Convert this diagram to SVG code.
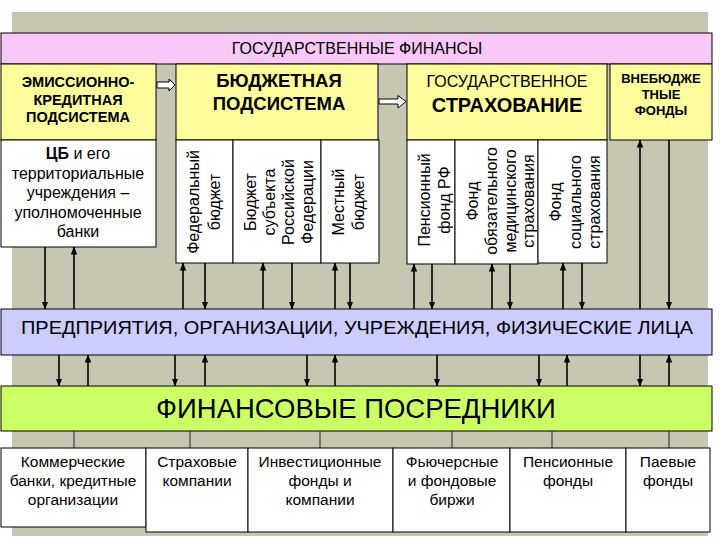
<svg xmlns="http://www.w3.org/2000/svg" width="720" height="540" viewBox="0 0 720 540">
<defs>
<style>
text{font-family:"Liberation Sans",Arial,sans-serif;fill:#000}
.box{stroke:#000;stroke-width:1}
.yel{fill:#fdfd9d}
.wht{fill:#fff}
.c{text-anchor:middle}
.b{font-weight:bold}
.v{font-size:16px;text-anchor:middle}
.bt{font-size:15.5px;text-anchor:middle}
.ar{stroke:#000;stroke-width:1.6;fill:none;marker-end:url(#ah)}
.ln{stroke:#222;stroke-width:1}
.blk{fill:#fff;stroke:#000;stroke-width:1}
</style>
<marker id="ah" markerUnits="userSpaceOnUse" markerWidth="8" markerHeight="8" viewBox="0 0 8 8" refX="7.5" refY="4" orient="auto">
<path d="M0,0.8 L8,4 L0,7.2 Z" fill="#000"/>
</marker>
</defs>
<rect x="12" y="12" width="696" height="524" fill="#c6c6b2"/>

<g id="title">
<rect class="box" x="1" y="33" width="711" height="31" fill="#f8c8f8"/>
<text class="c" x="357" y="54" font-size="16">ГОСУДАРСТВЕННЫЕ ФИНАНСЫ</text>
</g>

<g id="emission">
<rect class="box yel" x="1" y="64" width="155" height="76"/>
<text class="c b" x="78" y="87" font-size="14.5">ЭМИССИОННО-</text>
<text class="c b" x="78" y="104.5" font-size="14.5">КРЕДИТНАЯ</text>
<text class="c b" x="78" y="122" font-size="14.5">ПОДСИСТЕМА</text>
</g>

<g id="budget">
<rect class="box yel" x="176" y="64" width="202" height="76"/>
<text class="c b" x="279" y="87" font-size="18.5">БЮДЖЕТНАЯ</text>
<text class="c b" x="279" y="110" font-size="18.5">ПОДСИСТЕМА</text>
</g>

<g id="insurance">
<rect class="box yel" x="407" y="64" width="200" height="76"/>
<text class="c" x="507" y="87" font-size="16">ГОСУДАРСТВЕННОЕ</text>
<text class="c b" x="507" y="112" font-size="20">СТРАХОВАНИЕ</text>
</g>

<g id="extrabudget">
<rect class="box yel" x="610" y="64" width="102" height="76"/>
<text class="c b" x="661" y="83" font-size="13">ВНЕБЮДЖЕ</text>
<text class="c b" x="661" y="99" font-size="13">ТНЫЕ</text>
<text class="c b" x="661" y="115" font-size="13">ФОНДЫ</text>
</g>

<g id="cb">
<rect class="box wht" x="1" y="140" width="155" height="107"/>
<text class="c" x="78" y="159" font-size="16"><tspan font-weight="bold">ЦБ</tspan> и его</text>
<text class="c" x="78" y="178.5" font-size="16">территориальные</text>
<text class="c" x="78" y="198" font-size="16">учреждения –</text>
<text class="c" x="78" y="217.5" font-size="16">уполномоченные</text>
<text class="c" x="78" y="237" font-size="16">банки</text>
</g>

<g id="federal">
<rect class="box wht" x="176" y="140" width="57" height="123"/>
<text class="v" transform="translate(199,202) rotate(-90)">Федеральный</text>
<text class="v" transform="translate(220,202) rotate(-90)">бюджет</text>
</g>

<g id="subject">
<rect class="box wht" x="233" y="140" width="88" height="123"/>
<text class="v" transform="translate(256,202) rotate(-90)">Бюджет</text>
<text class="v" transform="translate(275,202) rotate(-90)">субъекта</text>
<text class="v" transform="translate(294,202) rotate(-90)">Российской</text>
<text class="v" transform="translate(313,202) rotate(-90)">Федерации</text>
</g>

<g id="local">
<rect class="box wht" x="321" y="140" width="58" height="123"/>
<text class="v" transform="translate(344,202) rotate(-90)">Местный</text>
<text class="v" transform="translate(364,202) rotate(-90)">бюджет</text>
</g>

<g id="pension-rf">
<rect class="box wht" x="407" y="140" width="48" height="124"/>
<text class="v" transform="translate(430,200) rotate(-90)">Пенсионный</text>
<text class="v" transform="translate(450,200) rotate(-90)">фонд РФ</text>
</g>

<g id="foms">
<rect class="box wht" x="455" y="140" width="83" height="124"/>
<text class="v" transform="translate(478,201) rotate(-90)">Фонд</text>
<text class="v" transform="translate(497,201) rotate(-90)">обязательного</text>
<text class="v" transform="translate(516,201) rotate(-90)">медицинского</text>
<text class="v" transform="translate(534,201) rotate(-90)">страхования</text>
</g>

<g id="fss">
<rect class="box wht" x="538" y="140" width="69" height="123"/>
<text class="v" transform="translate(561,202) rotate(-90)">Фонд</text>
<text class="v" transform="translate(581,202) rotate(-90)">социального</text>
<text class="v" transform="translate(600,202) rotate(-90)">страхования</text>
</g>

<g id="enterprises">
<rect class="box" x="1" y="309" width="711" height="46" fill="#ccccff"/>
<text x="21" y="334" font-size="19" textLength="672" lengthAdjust="spacingAndGlyphs">ПРЕДПРИЯТИЯ, ОРГАНИЗАЦИИ, УЧРЕЖДЕНИЯ, ФИЗИЧЕСКИЕ ЛИЦА</text>
</g>

<g id="intermediaries">
<rect class="box" x="1" y="386" width="711" height="45" fill="#ccff66"/>
<text class="c" x="356" y="418" font-size="27.5">ФИНАНСОВЫЕ ПОСРЕДНИКИ</text>
</g>

<g id="banks">
<rect class="box wht" x="1" y="448" width="145" height="79"/>
<text class="bt" x="73" y="467">Коммерческие</text>
<text class="bt" x="73" y="486">банки, кредитные</text>
<text class="bt" x="73" y="505">организации</text>
</g>
<g id="insurers">
<rect class="box wht" x="146" y="448" width="102" height="84"/>
<text class="bt" x="197" y="467">Страховые</text>
<text class="bt" x="197" y="486">компании</text>
</g>
<g id="investment">
<rect class="box wht" x="248" y="448" width="145" height="84"/>
<text class="bt" x="320" y="467">Инвестиционные</text>
<text class="bt" x="320" y="486">фонды и</text>
<text class="bt" x="320" y="505">компании</text>
</g>
<g id="exchanges">
<rect class="box wht" x="393" y="448" width="117" height="84"/>
<text class="bt" x="452" y="467">Фьючерсные</text>
<text class="bt" x="452" y="486">и фондовые</text>
<text class="bt" x="452" y="505">биржи</text>
</g>
<g id="pension-funds">
<rect class="box wht" x="510" y="448" width="116" height="84"/>
<text class="bt" x="568" y="467">Пенсионные</text>
<text class="bt" x="568" y="486">фонды</text>
</g>
<g id="mutual-funds">
<rect class="box wht" x="626" y="448" width="84" height="84"/>
<text class="bt" x="668" y="467">Паевые</text>
<text class="bt" x="668" y="486">фонды</text>
</g>

<g id="connectors">
<polygon class="blk" points="157,82 169,82 169,79 175,85 169,91 169,88 157,88"/>
<polygon class="blk" points="379,99 398,99 398,95.5 406,101.5 398,108 398,104 379,104"/>

<line class="ar" x1="45" y1="247" x2="45" y2="309"/>
<line class="ar" x1="74" y1="309" x2="74" y2="247"/>
<line class="ar" x1="183" y1="309" x2="183" y2="263"/>
<line class="ar" x1="205" y1="263" x2="205" y2="309"/>
<line class="ar" x1="263" y1="309" x2="263" y2="263"/>
<line class="ar" x1="292" y1="263" x2="292" y2="309"/>
<line class="ar" x1="335" y1="309" x2="335" y2="263"/>
<line class="ar" x1="350" y1="263" x2="350" y2="309"/>
<line class="ar" x1="414" y1="309" x2="414" y2="264"/>
<line class="ar" x1="432" y1="264" x2="432" y2="309"/>
<line class="ar" x1="492" y1="309" x2="492" y2="264"/>
<line class="ar" x1="510" y1="264" x2="510" y2="309"/>
<line class="ar" x1="563" y1="309" x2="563" y2="263"/>
<line class="ar" x1="582" y1="263" x2="582" y2="309"/>
<line class="ar" x1="640" y1="309" x2="640" y2="140"/>
<line class="ar" x1="669" y1="140" x2="669" y2="309"/>

<line class="ar" x1="59" y1="355" x2="59" y2="386"/>
<line class="ar" x1="88" y1="386" x2="88" y2="355"/>
<line class="ar" x1="175" y1="355" x2="175" y2="386"/>
<line class="ar" x1="205" y1="386" x2="205" y2="355"/>
<line class="ar" x1="307" y1="355" x2="307" y2="386"/>
<line class="ar" x1="335" y1="386" x2="335" y2="355"/>
<line class="ar" x1="437" y1="355" x2="437" y2="386"/>
<line class="ar" x1="539" y1="355" x2="539" y2="386"/>
<line class="ar" x1="567" y1="386" x2="567" y2="355"/>
<line class="ar" x1="640" y1="355" x2="640" y2="386"/>
<line class="ar" x1="669" y1="386" x2="669" y2="355"/>

<line class="ln" x1="74" y1="431" x2="74" y2="448"/>
<line class="ln" x1="190" y1="431" x2="190" y2="448"/>
<line class="ln" x1="320" y1="431" x2="320" y2="448"/>
<line class="ln" x1="452" y1="431" x2="452" y2="448"/>
<line class="ln" x1="552" y1="431" x2="552" y2="448"/>
<line class="ln" x1="669" y1="431" x2="669" y2="448"/>
</g>
</svg>
